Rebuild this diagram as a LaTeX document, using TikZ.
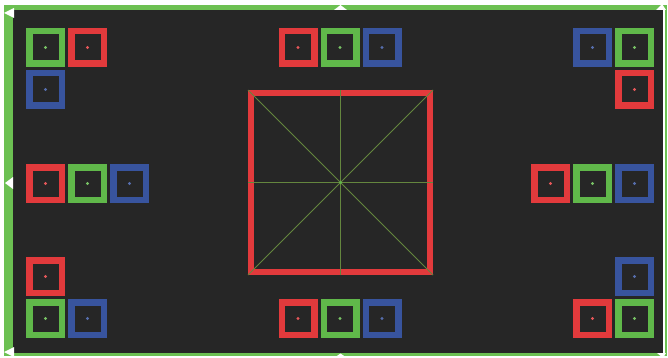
\documentclass[tikz,border=0pt]{standalone}
\definecolor{padred}{RGB}{226,58,60}
\definecolor{padgreen}{RGB}{96,184,74}
\definecolor{padblue}{RGB}{56,84,158}
\definecolor{floor}{RGB}{38,38,38}
\definecolor{rim}{RGB}{108,192,82}
\definecolor{guide}{RGB}{100,134,62}
\begin{document}
\begin{tikzpicture}[x=1pt, y=-1pt,
    pad/.style={draw=#1, line width=6.5pt, minimum size=32.5pt, inner sep=0pt}]
    \useasboundingbox (0,0) rectangle (668,358);
    \fill[white] (0,0) rectangle (668,358);
    \fill[rim] (4,5) rectangle (667,356);
    \fill[white] (663,10) rectangle (665,353);
    \fill[floor] (13,10) rectangle (663,353);
    \fill[white] (4,13) -- (14,8) -- (14,18) -- cycle;
    \fill[white] (5,183) -- (13,177) -- (13,189) -- cycle;
    \fill[white] (4,352) -- (14,347) -- (14,357) -- cycle;
    \fill[white] (334,10) -- (340.5,5) -- (347,10) -- cycle;
    \fill[white] (334,358) -- (340.5,353.5) -- (347,358) -- cycle;
    \fill[white] (656,10) -- (662,4) -- (666,10) -- cycle;
    \fill[white] (657,353) -- (663,358) -- (666,353) -- cycle;
    \foreach \n/\x/\y/\c in {tlg/45.5/47.5/green, tlr/87.5/47.5/red, tlb/45.5/89.5/blue,
        tcr/298/47.5/red, tcg/340/47.5/green, tcb/382/47.5/blue,
        trb/592.5/47.5/blue, trg/634.5/47.5/green, trr/634.5/89.5/red,
        mlr/45.5/183.5/red, mlg/87.5/183.5/green, mlb/129.5/183.5/blue,
        mrr/550.5/183.5/red, mrg/592.5/183.5/green, mrb/634.5/183.5/blue,
        blr/45.5/276.5/red, blg/45.5/318.5/green, blb/87.5/318.5/blue,
        bcr/298/318.5/red, bcg/340/318.5/green, bcb/382/318.5/blue,
        brb/634.5/276.5/blue, brr/592.5/318.5/red, brg/634.5/318.5/green}
    {
        \node[pad=pad\c] (\n) at (\x,\y) {};
        \fill[pad\c!85!white] (\n) circle (1.7pt);
    }
    \node[draw=padred, line width=6pt, minimum size=179pt, inner sep=0pt] (stage) at (340.5,182.5) {};
    \draw[guide, line width=0.8pt] (stage.west) -- (stage.east);
    \draw[guide, line width=0.8pt] (stage.north) -- (stage.south);
    \draw[guide, line width=0.8pt] (stage.north west) -- (stage.south east);
    \draw[guide, line width=0.8pt] (stage.north east) -- (stage.south west);
    \fill[padgreen] (stage) circle (1.5pt);
\end{tikzpicture}
\end{document}
